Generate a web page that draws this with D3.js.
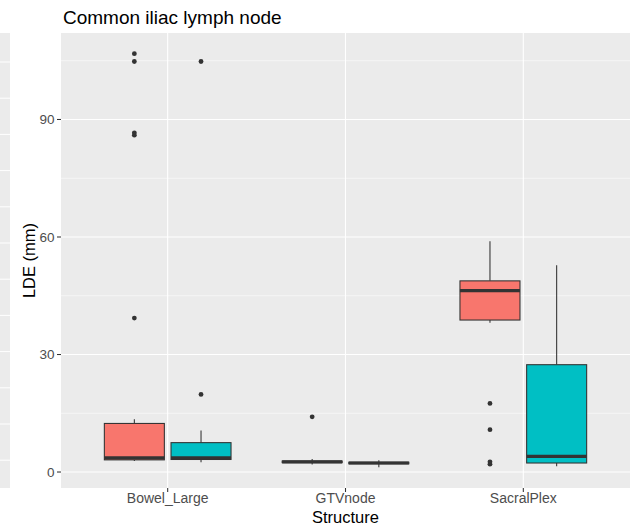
<!DOCTYPE html>
<html>
<head>
<meta charset="utf-8">
<script src="https://cdn.jsdelivr.net/npm/d3@7"></script>
<style>
  html, body { margin: 0; padding: 0; background: #ffffff; }
  svg { display: block; }
  text { font-family: "Liberation Sans", Arial, Helvetica, sans-serif; }
</style>
</head>
<body>
<div id="chart"></div>
<script>
// ---- data ----
const categories = ["Bowel_Large", "GTVnode", "SacralPlex"];
const groups = ["group1", "group2"];
const groupColors = ["#F8766D", "#00BFC4"];

// group 1 (red) box statistics per category
const g1Lower  = [2.8, 1.9, 38.1];
const g1Q1     = [3.1, 2.4, 38.8];
const g1Median = [3.6, 2.6, 46.3];
const g1Q3     = [12.4, 2.8, 48.8];
const g1Upper  = [13.5, 3.3, 58.9];
const g1Outliers = [[106.8, 104.8, 86.6, 86.0, 39.3], [14.1], [17.5, 10.8, 2.6, 2.0]];

// group 2 (teal) box statistics per category
const g2Lower  = [2.5, 1.2, 1.5];
const g2Q1     = [3.2, 2.1, 2.3];
const g2Median = [3.6, 2.3, 4.0];
const g2Q3     = [7.5, 2.5, 27.4];
const g2Upper  = [10.6, 3.0, 52.8];
const g2Outliers = [[104.8, 19.8], [], []];

const yTicks = [0, 30, 60, 90];
const yMinorTicks = [15, 45, 75, 105];

// neighbouring (cropped) panel grid values
const neighborGrid = [0, 5, 10, 15, 20, 25, 30, 35, 40, 45, 50, 55];

const title = "Common iliac lymph node";
const xTitle = "Structure";
const yTitle = "LDE (mm)";

// ---- build ----
const W = 632, H = 530;
const panel = { left: 61, right: 630, top: 33, bottom: 488 };

const boxData = [];
const stats = [
  { lower: g1Lower, q1: g1Q1, med: g1Median, q3: g1Q3, upper: g1Upper, out: g1Outliers },
  { lower: g2Lower, q1: g2Q1, med: g2Median, q3: g2Q3, upper: g2Upper, out: g2Outliers }
];
categories.forEach((c, ci) => {
  stats.forEach((s, gi) => {
    boxData.push({
      cat: c, group: groups[gi], gi,
      lower: s.lower[ci], q1: s.q1[ci], med: s.med[ci], q3: s.q3[ci], upper: s.upper[ci],
      out: s.out[ci]
    });
  });
});

const allVals = boxData.flatMap(d => [d.lower, d.upper, ...d.out]);
const dMin = d3.min(allVals), dMax = d3.max(allVals);
const span = dMax - dMin;

const y = d3.scaleLinear()
  .domain([dMin - 0.05 * span, dMax + 0.05 * span])
  .range([panel.bottom, panel.top]);

// discrete x with ggplot expansion (0.6 units each side)
const xc = d3.scaleLinear()
  .domain([0.4, categories.length + 0.6])
  .range([panel.left, panel.right]);
const x = d3.scalePoint().domain(categories).range([xc(1), xc(categories.length)]);
const unit = xc(2) - xc(1);
const dodgeWidth = 0.75 * unit;
const boxW = dodgeWidth / 2 * 0.9;
const xg = d3.scaleBand().domain(groups).range([-dodgeWidth / 2, dodgeWidth / 2]);

const svg = d3.select("#chart").append("svg")
  .attr("width", W).attr("height", H);

// neighbouring cropped panel on the left
const yn = d3.scaleLinear().domain([0, 55]).range([460.2, 62]);
svg.append("rect")
  .attr("x", 0).attr("y", panel.top).attr("width", 10).attr("height", panel.bottom - panel.top)
  .attr("fill", "#EBEBEB");
svg.append("g").selectAll("line").data(neighborGrid).join("line")
  .attr("x1", 0).attr("x2", 10)
  .attr("y1", d => yn(d)).attr("y2", d => yn(d))
  .attr("stroke", "#ffffff").attr("stroke-width", 1);

// panel background
svg.append("rect")
  .attr("x", panel.left).attr("y", panel.top)
  .attr("width", panel.right - panel.left).attr("height", panel.bottom - panel.top)
  .attr("fill", "#EBEBEB");

// minor grid
svg.append("g").selectAll("line").data(yMinorTicks).join("line")
  .attr("x1", panel.left).attr("x2", panel.right)
  .attr("y1", d => y(d)).attr("y2", d => y(d))
  .attr("stroke", "#ffffff").attr("stroke-width", 0.55);

// major grid
svg.append("g").selectAll("line").data(yTicks).join("line")
  .attr("x1", panel.left).attr("x2", panel.right)
  .attr("y1", d => y(d)).attr("y2", d => y(d))
  .attr("stroke", "#ffffff").attr("stroke-width", 1.1);
svg.append("g").selectAll("line").data(categories).join("line")
  .attr("x1", d => x(d)).attr("x2", d => x(d))
  .attr("y1", panel.top).attr("y2", panel.bottom)
  .attr("stroke", "#ffffff").attr("stroke-width", 1.1);

// boxes
const boxes = svg.append("g").selectAll("g").data(boxData).join("g")
  .attr("transform", d => `translate(${x(d.cat) + xg(d.group) + xg.bandwidth() / 2},0)`);

// whiskers
boxes.append("line")
  .attr("x1", 0).attr("x2", 0)
  .attr("y1", d => y(d.q3)).attr("y2", d => y(d.upper))
  .attr("stroke", "#333333").attr("stroke-width", 1.07);
boxes.append("line")
  .attr("x1", 0).attr("x2", 0)
  .attr("y1", d => y(d.q1)).attr("y2", d => y(d.lower))
  .attr("stroke", "#333333").attr("stroke-width", 1.07);

// box
boxes.append("rect")
  .attr("x", -boxW / 2).attr("width", boxW)
  .attr("y", d => y(d.q3)).attr("height", d => Math.max(0.01, y(d.q1) - y(d.q3)))
  .attr("fill", d => groupColors[d.gi])
  .attr("stroke", "#333333").attr("stroke-width", 1.07);

// median
boxes.append("line")
  .attr("x1", -boxW / 2).attr("x2", boxW / 2)
  .attr("y1", d => y(d.med)).attr("y2", d => y(d.med))
  .attr("stroke", "#333333").attr("stroke-width", 3.2);

// outliers
boxes.selectAll("circle").data(d => d.out).join("circle")
  .attr("cx", 0).attr("cy", v => y(v)).attr("r", 2.4)
  .attr("fill", "#333333");

// y axis
const yAxis = svg.append("g");
yAxis.selectAll("line").data(yTicks).join("line")
  .attr("x1", panel.left - 4).attr("x2", panel.left)
  .attr("y1", d => y(d)).attr("y2", d => y(d))
  .attr("stroke", "#333333").attr("stroke-width", 1.07);
yAxis.selectAll("text").data(yTicks).join("text")
  .attr("x", panel.left - 6.5).attr("y", d => y(d))
  .attr("dy", "0.35em").attr("text-anchor", "end")
  .attr("font-size", 13.5).attr("fill", "#4D4D4D")
  .text(d => d);

// x axis
const xAxis = svg.append("g");
xAxis.selectAll("line").data(categories).join("line")
  .attr("x1", d => x(d)).attr("x2", d => x(d))
  .attr("y1", panel.bottom).attr("y2", panel.bottom + 4)
  .attr("stroke", "#333333").attr("stroke-width", 1.07);
xAxis.selectAll("text").data(categories).join("text")
  .attr("x", d => x(d)).attr("y", panel.bottom + 15)
  .attr("text-anchor", "middle")
  .attr("font-size", 14).attr("fill", "#4D4D4D")
  .text(d => d);

// titles
svg.append("text")
  .attr("x", 63).attr("y", 24)
  .attr("font-size", 19).attr("fill", "#000000")
  .text(title);
svg.append("text")
  .attr("x", (panel.left + panel.right) / 2).attr("y", 523)
  .attr("text-anchor", "middle")
  .attr("font-size", 16.5).attr("fill", "#000000")
  .text(xTitle);
svg.append("text")
  .attr("transform", `translate(35,${(panel.top + panel.bottom) / 2}) rotate(-90)`)
  .attr("text-anchor", "middle")
  .attr("font-size", 16.5).attr("fill", "#000000")
  .text(yTitle);
</script>
</body>
</html>
